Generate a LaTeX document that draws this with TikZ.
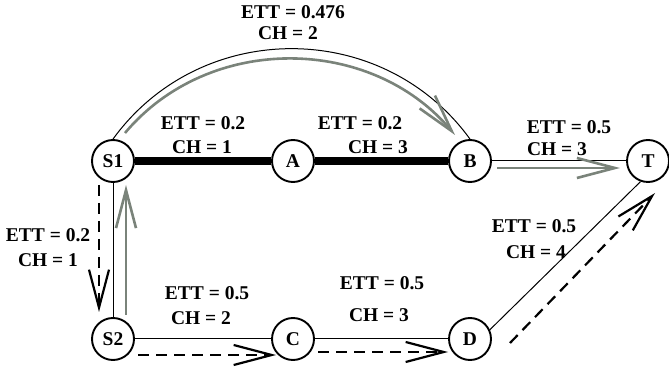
\documentclass[tikz,border=0pt]{standalone}
\usepackage{fontspec}
\setmainfont{Liberation Serif}
\usetikzlibrary{arrows.meta,calc}
\definecolor{arrgray}{RGB}{122,131,122}
\begin{document}
\begin{tikzpicture}[x=1pt,y=1pt,
 vtx/.style={circle,draw,line width=1.9pt,minimum size=42pt,inner sep=0pt,font=\fontsize{19.5}{22}\selectfont\bfseries},
 lbl/.style={font=\fontsize{19.5}{22}\selectfont\bfseries,inner sep=0pt},
 link/.style={line width=1pt},
 heavy/.style={line width=8pt},
 grayarr/.style={draw=arrgray,line width=2.6pt,-{Straight Barb[length=38pt,width=20pt]}},
 dasharr/.style={line width=2.2pt,dash pattern=on 11pt off 7pt,-{Straight Barb[length=38pt,width=20pt]}},
]
\useasboundingbox (0,0) rectangle (669,372);
% nodes
\node[vtx] (S1) at (113,211) {S1};
\node[vtx] (A)  at (293,211) {A};
\node[vtx] (B)  at (470,211) {B};
\node[vtx] (T)  at (648,211) {T};
\node[vtx] (S2) at (113,33) {S2};
\node[vtx] (C)  at (293,33) {C};
\node[vtx] (D)  at (470,33) {D};
% helper coordinates
\coordinate (gArcS) at ($(S1)+(12,28)$);
\coordinate (gArcE) at ($(B)+(-15,26)$);
\coordinate (gBTs) at ($(B)+(27,-7)$);
\coordinate (gBTe) at ($(T)+(-28,-7)$);
\coordinate (gUpS) at ($(S2)+(13,24)$);
\coordinate (gUpE) at ($(S1)+(13,-24)$);
\coordinate (dDnS) at ($(S1)+(-14,-24)$);
\coordinate (dDnE) at ($(S2)+(-14,27)$);
\coordinate (dSCs) at ($(S2)+(25,-16)$);
\coordinate (dSCe) at ($(C)+(-17,-16)$);
\coordinate (dCDs) at ($(C)+(25,-13)$);
\coordinate (dCDe) at ($(D)+(-22,-13)$);
\coordinate (dDTs) at ($(D)+(40,-4)$);
\coordinate (dDTe) at ($(T)+(7,-32)$);
% black links
\draw[heavy] (S1) -- (A);
\draw[heavy] (A) -- (B);
\draw[link] (S1.north) to[out=54,in=126,looseness=1.07] (B.north);
\draw[link] (B) -- (T);
\draw[link] (S1) -- (S2);
\draw[link] (S2) -- (C);
\draw[link] (C) -- (D);
\draw[link] (D.25) -- (T.250);
% gray arrows
\draw[grayarr] (gArcS) to[out=50,in=130,looseness=1.01] (gArcE);
\draw[grayarr] (gBTs) -- (gBTe);
\draw[grayarr] (gUpS) -- (gUpE);
% dashed arrows
\draw[dasharr] (dDnS) -- (dDnE);
\draw[dasharr] (dSCs) -- (dSCe);
\draw[dasharr] (dCDs) -- (dCDe);
\draw[dasharr] (dDTs) -- (dDTe);
% labels
\node[lbl] (l1) at (293,360) {ETT = 0.476};
\node[lbl] (l2) at (288,339) {CH = 2};
\node[lbl] (l3) at (203,249) {ETT = 0.2};
\node[lbl] (l4) at (202,225) {CH = 1};
\node[lbl] (l5) at (360,249) {ETT = 0.2};
\node[lbl] (l6) at (378,225) {CH = 3};
\node[lbl] (l7) at (569,245) {ETT = 0.5};
\node[lbl] (l8) at (557,223) {CH = 3};
\node[lbl] (l9) at (48,137) {ETT = 0.2};
\node[lbl] (l10) at (48,112) {CH = 1};
\node[lbl] (l11) at (207,79) {ETT = 0.5};
\node[lbl] (l12) at (201,54) {CH = 2};
\node[lbl] (l13) at (382,89) {ETT = 0.5};
\node[lbl] (l14) at (379,57) {CH = 3};
\node[lbl] (l15) at (534,146) {ETT = 0.5};
\node[lbl] (l16) at (536,120) {CH = 4};
\end{tikzpicture}
\end{document}
